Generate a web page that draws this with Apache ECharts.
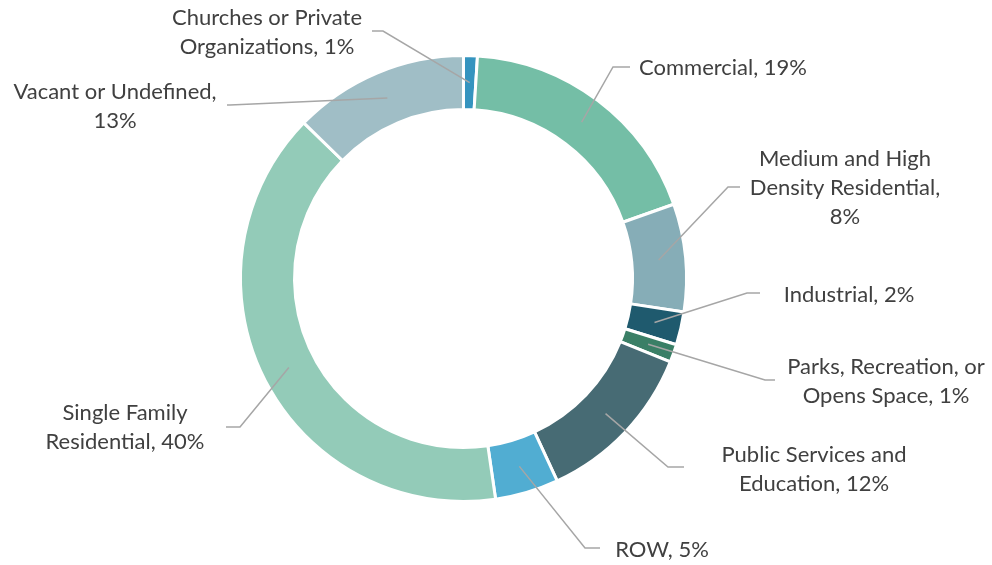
<!DOCTYPE html>
<html><head><meta charset="utf-8">
<script src="https://cdn.jsdelivr.net/npm/echarts@6/dist/echarts.min.js"></script>
<style>html,body{margin:0;padding:0;background:#fff}#c{width:992px;height:565px}</style>
</head><body><div id="c"></div>
<script>
// ---- data ----
const categories = [
  'Churches or Private\nOrganizations',
  'Commercial',
  'Medium and High\nDensity Residential',
  'Industrial',
  'Parks, Recreation, or\nOpens Space',
  'Public Services and\nEducation',
  'ROW',
  'Single Family\nResidential',
  'Vacant or Undefined'
];
const shares = [1.0, 18.6, 7.8, 2.4, 1.3, 12.0, 4.6, 39.6, 12.7];

// ---- styling / layout ----
const colors = ['#3594BF', '#74BEA6', '#86ADB7', '#1F5A6E', '#3A7F66', '#476B74', '#51ADD2', '#93CBB8', '#A0BEC6'];
const breakAfterComma = [false, false, true, false, false, false, false, false, true];
// label centre x, centre y, elbow x, line end x, line y
const labelPlace = [
  [267, 32, 383, 372, 31],
  [723, 68, 613, 630, 67],
  [845, 188, 728, 740, 187],
  [849, 295, 747, 760, 293],
  [886, 381, 765, 775, 380],
  [814, 469, 668, 684, 467],
  [662, 550, 585, 600, 548],
  [125, 427, 240, 226, 427],
  [115, 106, 230, 227, 105]
];
const CX = 463.5, CY = 278.5, R0 = 169, R1 = 223, RL = 196;

const chart = echarts.init(document.getElementById('c'), null, {renderer: 'canvas'});

// start points of leader lines: mid-angle of each slice, inside the ring
const total = shares.reduce((a, b) => a + b, 0);
function startPoint(i) {
  let before = 0;
  for (let k = 0; k < i; k++) before += shares[k];
  const mid = (before + shares[i] / 2) / total * Math.PI * 2;
  return [CX + RL * Math.sin(mid), CY - RL * Math.cos(mid)];
}

const common = {
  type: 'pie',
  center: [CX, CY],
  radius: [R0, R1],
  startAngle: 90,
  clockwise: true,
  avoidLabelOverlap: false,
  silent: true,
  emphasis: {disabled: true}
};

chart.setOption({
  backgroundColor: '#ffffff',
  animation: false,
  series: [
    Object.assign({}, common, {
      z: 2,
      data: categories.map((n, i) => ({name: n, value: shares[i], itemStyle: {color: colors[i]}})),
      itemStyle: {borderColor: '#ffffff', borderWidth: 3},
      label: {show: false},
      labelLine: {show: false}
    }),
    Object.assign({}, common, {
      z: 3,
      data: categories.map((n, i) => ({name: n, value: shares[i]})),
      itemStyle: {color: 'rgba(0,0,0,0)', borderWidth: 0},
      label: {
        show: true,
        position: 'outside',
        color: '#404040',
        fontFamily: 'Lato',
        fontSize: 22,
        lineHeight: 29,
        align: 'center',
        formatter: p => p.name + ',' + (breakAfterComma[p.dataIndex] ? '\n' : ' ') + Math.round(p.percent) + '%'
      },
      labelLine: {show: true, length: 10, length2: 10, lineStyle: {color: '#A6A6A6', width: 1.5}},
      labelLayout: function (params) {
        const i = params.dataIndex;
        const lp = labelPlace[i];
        return {
          x: lp[0], y: lp[1], align: 'center', verticalAlign: 'middle',
          labelLinePoints: [startPoint(i), [lp[2], lp[4]], [lp[3], lp[4]]]
        };
      }
    })
  ]
});
</script></body></html>
